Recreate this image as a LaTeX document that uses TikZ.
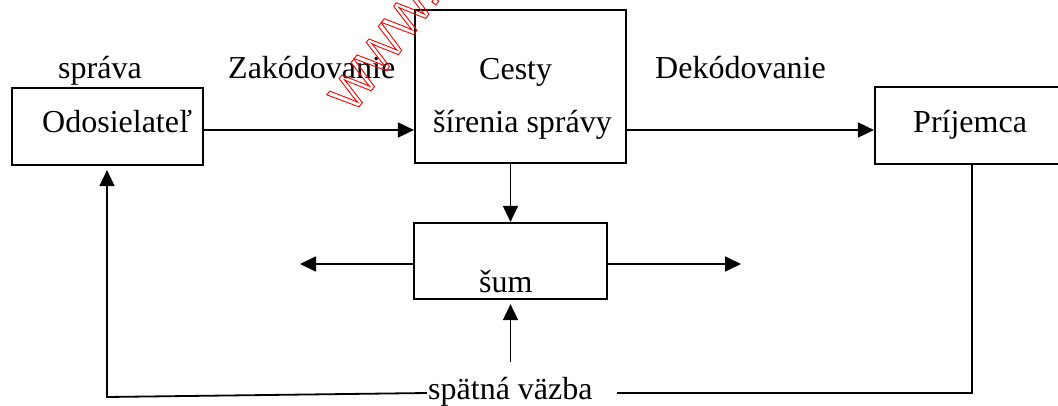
\documentclass[tikz,border=0pt]{standalone}
\usepackage{fontspec}
\setmainfont{Liberation Serif}
\newfontfamily\wmfont{Liberation Sans}
\usetikzlibrary{arrows.meta}
\tikzset{
  boxnode/.style={draw, line width=2.2pt, minimum width=#1, inner sep=0pt},
  lbl/.style={inner sep=0pt, font=\fontsize{32}{38}\selectfont},
  conn/.style={line width=1.8pt},
  arr/.style={conn, -{Triangle[length=16pt,width=15pt]}}
}
\begin{document}
\begin{tikzpicture}[x=1pt,y=-1pt]
\useasboundingbox (0,0) rectangle (1058,406);
\clip (0,0) rectangle (1058,406);
% boxes
\node[boxnode=191pt, minimum height=77pt] (odo) at (107.5,126.5) {};
\node[boxnode=211pt, minimum height=153pt] (ces) at (520.5,86.5) {};
\node[boxnode=200pt, minimum height=77pt] (prij) at (975,125.5) {};
\node[boxnode=193pt, minimum height=76pt] (sum) at (510.5,261) {};
% labels
\node[lbl, anchor=base west] (sprava) at (58,79) {správa};
\node[lbl, anchor=base west] (zak) at (228,79) {Zakódovanie};
\node[lbl, anchor=base west] (dek) at (655,79) {Dekódovanie};
\node[lbl, anchor=base west] (odot) at (42,133) {Odosielateľ};
\node[lbl, anchor=base west] (cest) at (479,80) {Cesty};
\node[lbl, anchor=base east] (sir) at (612,133) {šírenia správy};
\node[lbl, anchor=base west] (prijt) at (913,133) {Príjemca};
\node[lbl, anchor=base west] (sumt) at (479,293) {šum};
\node[lbl, anchor=base west] (sv) at (428,399) {spätná väzba};
% free ends
\coordinate (nl) at (300,264);
\coordinate (nr) at (741,264);
\coordinate (nb) at (510.5,362);
\coordinate (fb1) at (972,393);
\coordinate (fb2) at (107,397);
% connectors
\draw[arr] ([yshift=-3.5pt]odo.east) -- ([yshift=-3.5pt]odo.east -| ces.west);
\draw[arr] ([yshift=-3.5pt]odo.east -| ces.east) -- ([yshift=-3.5pt]odo.east -| prij.west);
\draw[arr] (sum.north |- ces.south) -- (sum.north);
\draw[arr] ([yshift=-3pt]sum.west) -- (nl);
\draw[arr] ([yshift=-3pt]sum.east) -- (nr);
\draw[arr, shorten >=4pt] (nb) -- (sum.south);
\draw[conn] (prij.south -| fb1) -- (fb1) -- ([xshift=24pt]sv.east |- fb1);
\draw[arr, shorten >=4pt] ([xshift=-1pt]sv.west |- fb1) -- (fb2) -- (fb2 |- odo.south);
% watermark
\node[inner sep=0pt, anchor=base west, rotate=53, text=red] (wm) at (353,115)
  {\wmfont\fontsize{48}{48}\selectfont\special{pdf:literal direct 1 Tr 0.9 w}WWW.\special{pdf:literal direct 0 Tr}};
\end{tikzpicture}
\end{document}
